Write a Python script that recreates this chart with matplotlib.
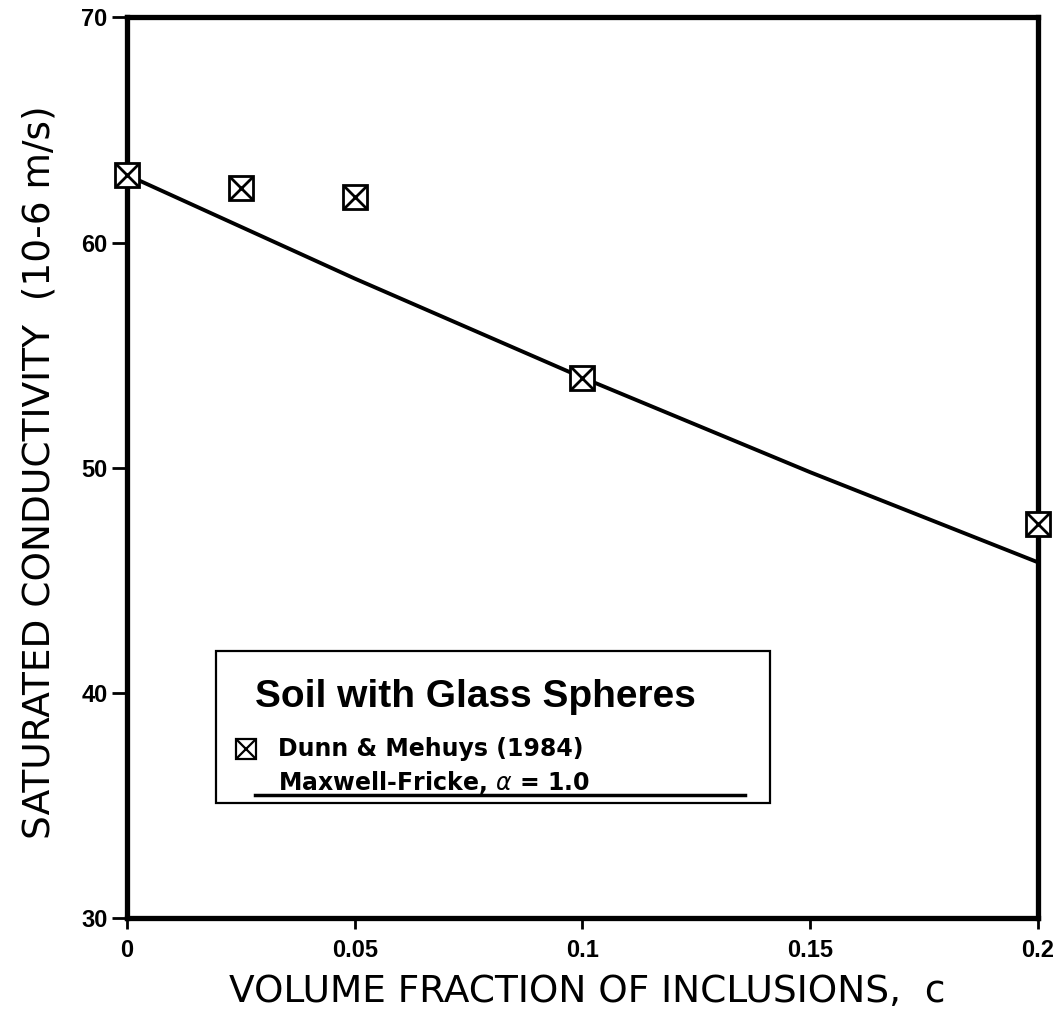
import matplotlib.pyplot as plt
from matplotlib.patches import Rectangle
from matplotlib.lines import Line2D

plt.rcParams['font.family'] = ['Liberation Sans', 'DejaVu Sans']

# measured points (Dunn & Mehuys 1984)
c_obs = [0.0, 0.025, 0.05, 0.1, 0.2]
k_obs = [63.0, 62.4, 62.0, 54.0, 47.5]

# Maxwell-Fricke curve
c_fit = [0.0, 0.025, 0.05, 0.075, 0.1, 0.125, 0.15, 0.175, 0.2]
k_fit = [63.0, 60.7, 58.4, 56.2, 54.0, 51.9, 49.8, 47.8, 45.8]

xticks = [0, 0.05, 0.1, 0.15, 0.2]
xtick_labels = ['0', '0.05', '0.1', '0.15', '0.2']
yticks = [30, 40, 50, 60, 70]

fig = plt.figure(figsize=(10.6, 10.19), dpi=100)
ax = fig.add_axes([0.1198, 0.099, 0.8594, 0.884])

ax.plot(c_fit, k_fit, color='k', lw=2.8, solid_capstyle='butt')

# square with a cross inside
ax.plot(c_obs, k_obs, 's', ms=17, mfc='white', mec='k', mew=2, clip_on=False, zorder=3)
ax.plot(c_obs, k_obs, 'x', ms=16, mec='k', mew=2, clip_on=False, zorder=4)

ax.set_xlim(0, 0.2)
ax.set_ylim(30, 70)
ax.set_xticks(xticks)
ax.set_xticklabels(xtick_labels)
ax.set_yticks(yticks)
ax.tick_params(direction='out', width=2, labelsize=17)
ax.tick_params(axis='x', length=8, pad=7)
ax.tick_params(axis='y', length=11, pad=3)
for lab in ax.get_xticklabels() + ax.get_yticklabels():
    lab.set_fontweight('bold')
for spine in ax.spines.values():
    spine.set_linewidth(3.8)

ax.set_xlabel('VOLUME FRACTION OF INCLUSIONS,  c', fontsize=27, family=['DejaVu Sans'])
ax.set_ylabel('SATURATED CONDUCTIVITY  (10-6 m/s)', fontsize=27, family=['DejaVu Sans'])
ax.xaxis.set_label_coords(0.505, -0.093)
ax.xaxis.label.set_va('baseline')
ax.yaxis.set_label_coords(-0.085, 0.495)
ax.yaxis.label.set_va('baseline')

# legend box drawn by hand
ax.add_patch(Rectangle((0.098, 0.128), 0.608, 0.169, transform=ax.transAxes,
                       fill=False, lw=1.6, ec='k', zorder=5))
ax.text(0.382, 0.245, 'Soil with Glass Spheres', transform=ax.transAxes,
        ha='center', va='center', fontsize=28, fontweight='bold')
ax.plot([0.131], [0.188], 's', ms=14, mfc='white', mec='k', mew=1.6, transform=ax.transAxes)
ax.plot([0.131], [0.188], 'x', ms=13, mec='k', mew=1.6, transform=ax.transAxes)
ax.text(0.166, 0.188, 'Dunn & Mehuys (1984)', transform=ax.transAxes,
        ha='left', va='center', fontsize=17, fontweight='bold', family=['DejaVu Sans'])
ax.text(0.166, 0.150, r'Maxwell-Fricke, $\alpha$ = 1.0', transform=ax.transAxes,
        ha='left', va='center', fontsize=17, fontweight='bold', family=['DejaVu Sans'])
ax.add_line(Line2D([0.140, 0.678], [0.137, 0.137], transform=ax.transAxes,
                   color='k', lw=2.5))

fig.savefig('out.png', dpi=100)
